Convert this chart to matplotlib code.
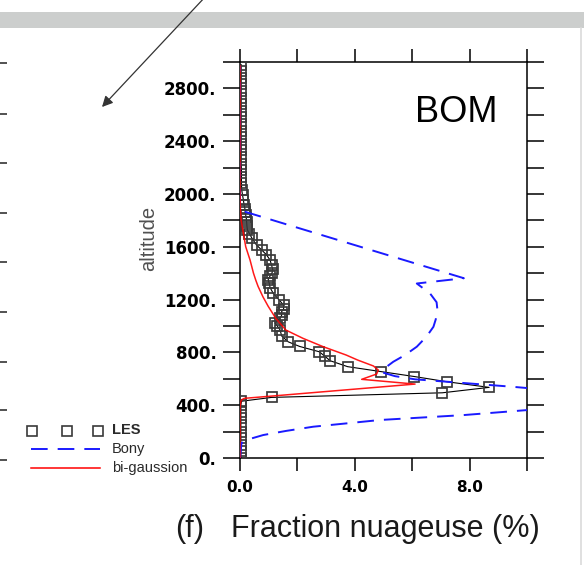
import matplotlib
matplotlib.use("Agg")
import matplotlib.pyplot as plt
from matplotlib.patches import Rectangle

plt.rcParams['lines.scale_dashes'] = False

# LES cloud fraction profile (%)
les_alt = [0, 50, 100, 150, 200, 250, 300, 350, 400, 430, 459,
           494, 535, 578, 617, 655, 692, 737, 772, 805, 845,
           880, 925, 969, 1000, 1020, 1057, 1080, 1108, 1130, 1158,
           1200, 1247, 1290, 1322, 1350, 1380, 1405, 1430, 1460, 1499,
           1540, 1575, 1612, 1663, 1700, 1726, 1760, 1790, 1815, 1840,
           1865, 1890, 1920, 1953, 1990, 2030,
           2080, 2130, 2180, 2230, 2280, 2330, 2380, 2430, 2480, 2530,
           2580, 2630, 2680, 2730, 2780, 2830, 2880, 2930, 2980]
les_frac = [0.03, 0.03, 0.03, 0.03, 0.03, 0.03, 0.03, 0.03, 0.03, 0.05, 1.10,
            7.05, 8.68, 7.20, 6.08, 4.90, 3.75, 3.14, 2.95, 2.76, 2.08,
            1.68, 1.45, 1.40, 1.30, 1.22, 1.38, 1.45, 1.45, 1.52, 1.52,
            1.35, 1.16, 1.05, 1.02, 0.98, 1.05, 1.12, 1.14, 1.10, 1.05,
            0.92, 0.76, 0.58, 0.42, 0.33, 0.26, 0.24, 0.23, 0.22, 0.20,
            0.18, 0.17, 0.14, 0.12, 0.09, 0.06,
            0.05, 0.05, 0.05, 0.04, 0.04, 0.04, 0.04, 0.04, 0.04, 0.04,
            0.04, 0.04, 0.04, 0.04, 0.04, 0.04, 0.04, 0.04, 0.04]

# Bony scheme
bony_alt = [0, 113, 145, 174, 205, 237, 262, 288, 325, 363,
            450, 530, 540, 578, 596, 620, 650, 690, 729, 780,
            843, 920, 994, 1050, 1120, 1180, 1247, 1322, 1362, 1877,
            2970]
bony_frac = [0.0, 0.05, 0.35, 0.81, 1.6, 2.55, 3.7, 4.88, 7.78, 10.0,
             13.0, 10.0, 9.47, 7.2, 6.1, 5.4, 4.94, 5.1, 5.34, 5.75,
             6.16, 6.5, 6.74, 6.82, 6.88, 6.85, 6.62, 6.16, 7.8, 0.0,
             0.0]

# bi-gaussian scheme
bigauss_alt = [0, 380, 420, 440, 452, 469, 560, 596, 636, 666,
               697, 742, 780, 843, 906, 969, 1057, 1150, 1221, 1300,
               1347, 1400, 1500, 1600, 1700, 1800, 1900, 2000, 2970]
bigauss_frac = [0.0, 0.0, 0.02, 0.05, 0.15, 1.1, 6.1, 4.24, 4.76, 4.82,
                4.65, 4.1, 3.7, 2.9, 2.2, 1.6, 1.25, 0.98, 0.8, 0.63,
                0.55, 0.47, 0.35, 0.2, 0.12, 0.04, 0.01, 0.0, 0.0]

xticks = [0, 2, 4, 6, 8, 10]
xtick_labels = ['0.0', '', '4.0', '', '8.0', '']
yticks = list(range(0, 3001, 200))
ytick_labels = [f'{v}.' if v % 400 == 0 and v < 3000 else '' for v in yticks]

W, H = 584, 565
fig = plt.figure(figsize=(W / 100, H / 100), dpi=100)
fig.patch.set_facecolor('white')

# page decorations, in pixel coordinates
ov = fig.add_axes([0, 0, 1, 1])
ov.set_xlim(0, W)
ov.set_ylim(H, 0)
ov.axis('off')
ov.add_patch(Rectangle((0, 12), W, 15.5, color='#cccecd', lw=0))
ov.plot([581, 581], [28, H], color='#dadada', lw=1.2)
for y in [63, 114, 163, 213, 262, 312, 362, 410, 460]:
    ov.plot([0, 7], [y, y], color='#222222', lw=1.1, solid_capstyle='butt')
ov.annotate('', xy=(102, 107), xytext=(206, -4),
            arrowprops=dict(arrowstyle='-|>', color='#333333', lw=0.9,
                            mutation_scale=16, shrinkA=0, shrinkB=0),
            annotation_clip=False)

# legend
ov.plot([32, 67, 98], [431, 431, 431], 's', ms=6.5, mfc='none', mec='#3a3a3a', mew=1.2)
ov.plot([31, 100], [449, 449], color='#1a1aff', lw=1.4, dashes=(12, 7.2))
ov.plot([31, 100], [468, 468], color='red', lw=1.1)
leg_font = dict(family='Liberation Sans', fontsize=10.5, color='#2a2a2a', va='center')
ov.text(112, 430, 'LES', fontweight='bold', **leg_font)
ov.text(112, 449, 'Bony', **leg_font)
ov.text(112, 468, 'bi-gaussion', **leg_font)

ov.text(149, 238, 'altitude', rotation=90, ha='center', va='center',
        fontsize=14.5, family='Liberation Sans', color='#505050')
ov.text(175, 537, '(f)', fontsize=22, family='Liberation Sans', color='#1a1a1a', va='baseline')
ov.text(231, 537, 'Fraction nuageuse (%)', fontsize=22, family='Liberation Sans',
        color='#1a1a1a', va='baseline')

# main panel
ax = fig.add_axes([240 / W, 107 / H, 287 / W, 396 / H])
ax.plot(les_frac, les_alt, color='black', lw=0.8, marker='s', ms=7,
        mfc='none', mec='#3a3a3a', mew=1.25, zorder=3)
ax.plot(bony_frac, bony_alt, color='#1a1aff', lw=1.4, dashes=(12, 7.2), zorder=3)
ax.plot(bigauss_frac, bigauss_alt, color='red', lw=1.1, alpha=0.9, zorder=4)

ax.set_xlim(0, 10)
ax.set_ylim(0, 3000)
ax.set_xticks(xticks)
ax.set_xticklabels(xtick_labels)
ax.set_yticks(yticks)
ax.set_yticklabels(ytick_labels)
ax.tick_params(axis='both', direction='out', width=1.1, colors='black')
ax.tick_params(axis='y', length=12, pad=5, left=True, right=True, labelsize=12)
ax.tick_params(axis='x', length=9.5, pad=6, top=True, bottom=True, labelsize=11)
for lbl in ax.get_xticklabels() + ax.get_yticklabels():
    lbl.set_fontweight('bold')
for sp in ax.spines.values():
    sp.set_linewidth(1.1)

ax.text(0.753, 0.848, 'BOM', transform=ax.transAxes, ha='center', va='baseline',
        fontsize=26, family='Liberation Sans')

fig.savefig('out.png', dpi=100)
